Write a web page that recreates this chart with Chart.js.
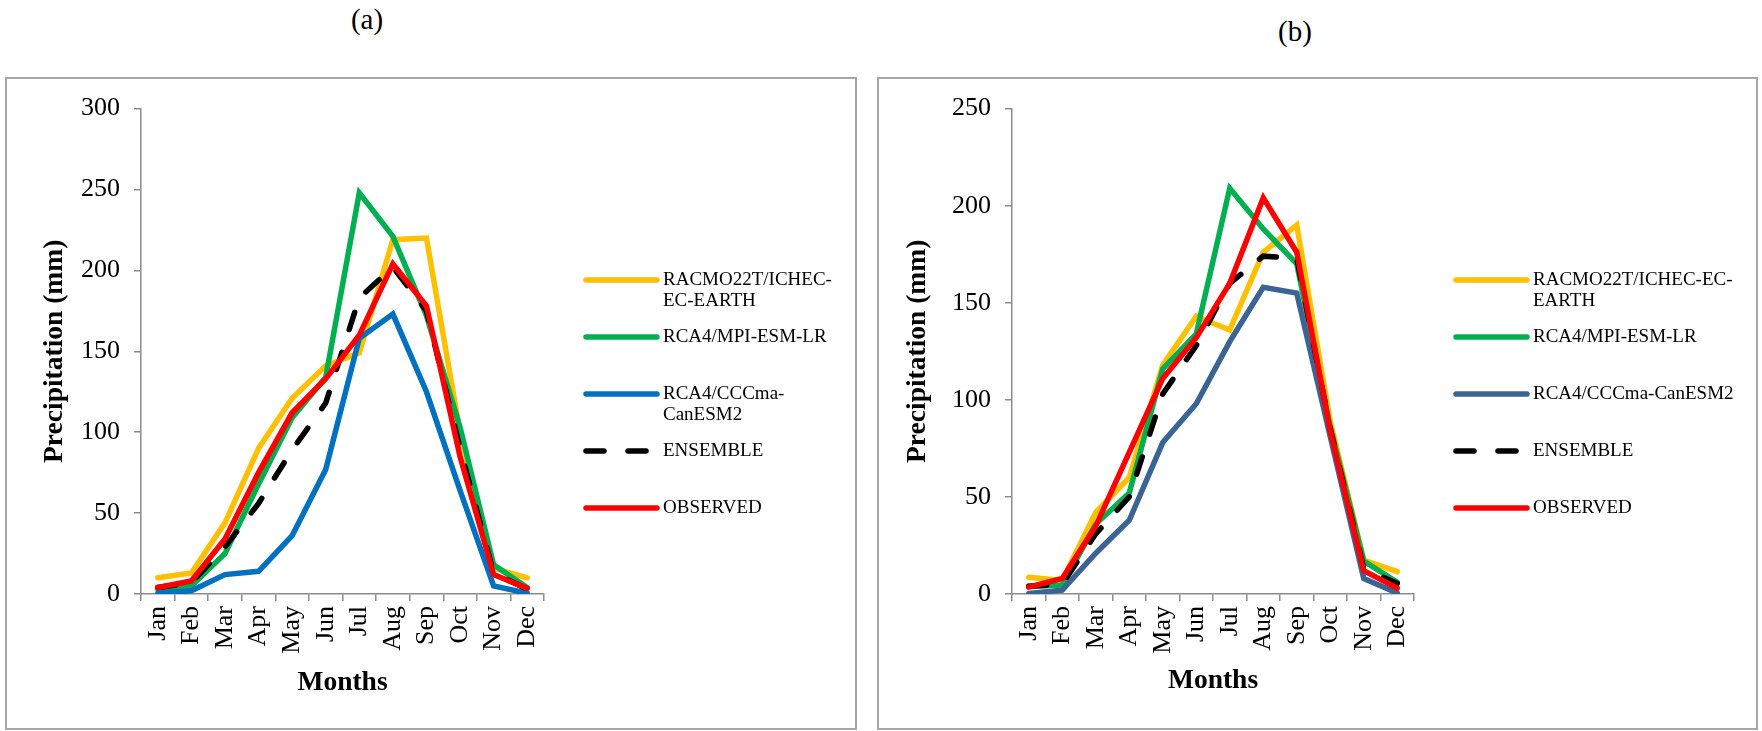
<!DOCTYPE html>
<html>
<head>
<meta charset="utf-8">
<script src="https://cdn.jsdelivr.net/npm/chart.js@4.4.1/dist/chart.umd.min.js"></script>
<style>
  body { margin: 0; background: #fff; width: 1762px; height: 731px; overflow: hidden; position: relative; font-family: "Liberation Serif", serif; }
  .panel { position: absolute; box-sizing: border-box; border: 2px solid #a6a6a6; background: #fff; }
  .panel canvas { position: absolute; left: 0; top: 0; }
  #panelA { left: 5px; top: 77px; width: 852px; height: 653px; }
  #panelB { left: 877px; top: 77px; width: 881px; height: 653px; }
  .tag { position: absolute; font-size: 29px; transform: translate(-50%, -50%); color: #000; }
</style>
</head>
<body>
<div class="tag" style="left:367px; top:19px;">(a)</div>
<div class="tag" style="left:1295px; top:31px;">(b)</div>
<div class="panel" id="panelA"><canvas id="chartA" width="848" height="649"></canvas></div>
<div class="panel" id="panelB"><canvas id="chartB" width="877" height="649"></canvas></div>

<script>
// monthly precipitation (mm)
var months = ['Jan','Feb','Mar','Apr','May','Jun','Jul','Aug','Sep','Oct','Nov','Dec'];
var seriesNames = ['RACMO22T/ICHEC-EC-EARTH', 'RCA4/MPI-ESM-LR', 'RCA4/CCCma-CanESM2', 'ENSEMBLE', 'OBSERVED'];

// panel (a)
var racmoA    = [10, 13, 44, 90, 121, 141, 149, 219, 220, 100, 16, 10];
var mpiA      = [3, 5, 25, 68, 109, 134, 248, 221, 172, 103, 18, 4];
var canesmA   = [0.5, 2, 12, 14, 36, 77, 158, 173, 125, 64, 5, 0.5];
var ensembleA = [4, 7, 29, 56, 89, 118, 183, 202, 175, 90, 13, 3];
var observedA = [4, 8, 34, 75, 112, 133, 160, 204, 178, 85, 12, 3.5];

// panel (b)
var racmoB    = [8.6, 7, 42, 60, 118, 143, 136, 176, 190, 89, 17.5, 11.5];
var mpiB      = [4, 4.6, 36, 52, 116, 134, 209, 188, 170, 86, 17, 6];
var canesmB   = [0.3, 2, 21, 38, 78, 98, 130, 158, 155, 81, 8, 0.5];
var ensembleB = [4, 5, 31, 50, 103, 128, 160, 174, 173, 85, 13, 5.5];
var observedB = [3.5, 8, 35, 73, 111, 132, 160, 204, 176, 84, 12, 3];

var yTicksA = [0, 300, 50];   // min, max, step
var yTicksB = [0, 250, 50];

// legend text, wrapped the way each panel shows it
var legendLinesA = [['RACMO22T/ICHEC-', 'EC-EARTH'], ['RCA4/MPI-ESM-LR'], ['RCA4/CCCma-', 'CanESM2'], ['ENSEMBLE'], ['OBSERVED']];
var legendLinesB = [['RACMO22T/ICHEC-EC-', 'EARTH'], ['RCA4/MPI-ESM-LR'], ['RCA4/CCCma-CanESM2'], ['ENSEMBLE'], ['OBSERVED']];

Chart.defaults.font.family = '"Liberation Serif", "Times New Roman", serif';
Chart.defaults.color = '#000';

var axisGrey = '#8c8c8c';
var tickFont = { size: 26 };
var titleFont = { size: 27.5, weight: 'bold' };
var seriesWidth = 5.5;

function lineSet(label, data, color, order, dash) {
  return {
    label: label,
    data: data,
    borderColor: color,
    backgroundColor: color,
    borderWidth: seriesWidth,
    borderDash: dash || [],
    borderCapStyle: 'round',
    pointRadius: 0,
    pointHoverRadius: 0,
    tension: 0,
    fill: false,
    order: order
  };
}

// legend drawn at the right of the plot, one line sample per series
var sideLegend = {
  id: 'sideLegend',
  afterDraw: function(chart, args, opts) {
    var ctx = chart.ctx;
    ctx.save();
    chart.data.datasets.forEach(function(ds, i) {
      var y = opts.top + i * opts.step;
      ctx.beginPath();
      ctx.strokeStyle = ds.borderColor;
      ctx.lineWidth = seriesWidth;
      ctx.lineCap = 'round';
      ctx.setLineDash(ds.borderDash || []);
      ctx.moveTo(opts.x, y);
      ctx.lineTo(opts.x + opts.len, y);
      ctx.stroke();
      ctx.setLineDash([]);
      ctx.fillStyle = '#000';
      ctx.font = opts.fontSize + 'px "Liberation Serif", serif';
      ctx.textAlign = 'left';
      ctx.textBaseline = 'middle';
      opts.lines[i].forEach(function(t, k) {
        ctx.fillText(t, opts.x + opts.len + opts.gap, y + k * opts.lineHeight);
      });
    });
    ctx.restore();
  }
};

function makeChart(id, sets, yTicks, blue, box, legendLines) {
  var datasets = [
    lineSet(seriesNames[0], sets[0], '#FFC000', 4),
    lineSet(seriesNames[1], sets[1], '#00B050', 3),
    lineSet(seriesNames[2], sets[2], blue, 2),
    lineSet(seriesNames[3], sets[3], '#000000', 1, [18, 24]),
    lineSet(seriesNames[4], sets[4], '#FF0000', 0)
  ];
  return new Chart(document.getElementById(id).getContext('2d'), {
    type: 'line',
    data: { labels: months, datasets: datasets },
    options: {
      responsive: false,
      animation: false,
      events: [],
      layout: { padding: { left: 0, top: box.top, right: box.right, bottom: 0 } },
      plugins: {
        legend: { display: false },
        tooltip: { enabled: false },
        sideLegend: { x: box.legendX, top: 201, step: 57, len: 71, gap: 6, fontSize: 19, lineHeight: 21, lines: legendLines }
      },
      scales: {
        x: {
          offset: true,
          grid: { offset: true, drawOnChartArea: false, drawTicks: true, tickLength: 7, color: axisGrey, lineWidth: 1.5 },
          border: { color: axisGrey, width: 1.5 },
          ticks: { minRotation: 90, maxRotation: 90, autoSkip: false, padding: 5, font: tickFont, color: '#000' },
          title: { display: true, text: 'Months', font: titleFont, color: '#000', padding: { top: 0, bottom: box.xTitlePad } },
          afterFit: function(s) { s.height = box.xHeight; }
        },
        y: {
          min: yTicks[0],
          max: yTicks[1],
          grid: { drawOnChartArea: false, drawTicks: true, tickLength: 7, color: axisGrey, lineWidth: 1.5 },
          border: { color: axisGrey, width: 1.5 },
          ticks: { stepSize: yTicks[2], padding: 14, font: tickFont, color: '#000' },
          title: { display: true, text: 'Precipitation (mm)', font: titleFont, color: '#000', padding: { top: box.yTitlePad, bottom: 0 } },
          afterFit: function(s) { s.width = box.yWidth; }
        }
      }
    },
    plugins: [sideLegend]
  });
}

window.onload = function() {
  makeChart('chartA', [racmoA, mpiA, canesmA, ensembleA, observedA], yTicksA, '#0070C0',
    { top: 29, right: 311, yWidth: 134, xHeight: 134, yTitlePad: 31, xTitlePad: 29, legendX: 579 }, legendLinesA);
  makeChart('chartB', [racmoB, mpiB, canesmB, ensembleB, observedB], yTicksB, '#3B6494',
    { top: 29, right: 342, yWidth: 133, xHeight: 134, yTitlePad: 22, xTitlePad: 31, legendX: 577 }, legendLinesB);
};
</script>
</body>
</html>
